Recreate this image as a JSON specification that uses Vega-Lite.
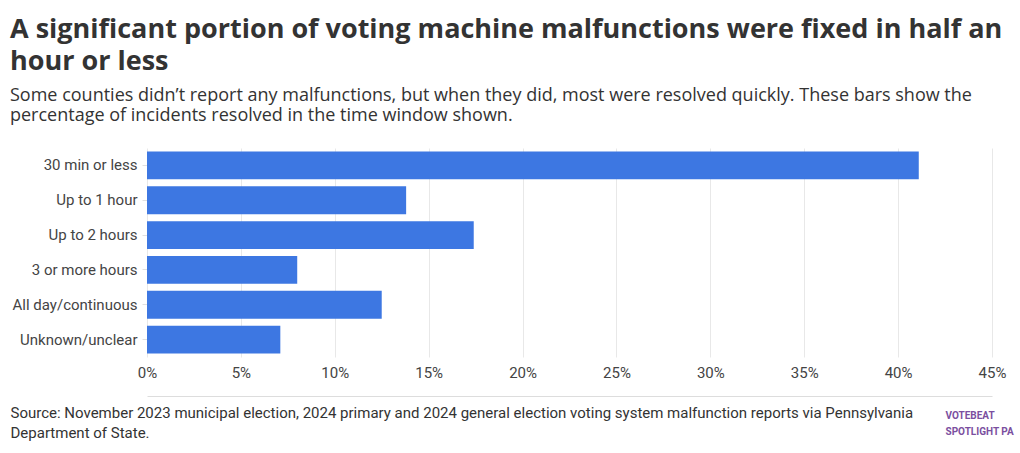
{
  "$schema": "https://vega.github.io/schema/vega-lite/v6.json",
  "autosize": {"type": "none"},
  "width": 845,
  "height": 209,
  "padding": {"left": 147, "top": 148, "right": 28, "bottom": 96},
  "background": "white",
  "config": {
    "font": "Roboto",
    "view": {"stroke": null}
  },
  "title": {
    "text": ["A significant portion of voting machine malfunctions were fixed in half an", "hour or less"],
    "subtitle": ["Some counties didn’t report any malfunctions, but when they did, most were resolved quickly. These bars show the", "percentage of incidents resolved in the time window shown."],
    "anchor": "start",
    "frame": "group",
    "dx": -137,
    "font": "Open Sans",
    "fontSize": 27,
    "fontWeight": "bold",
    "lineHeight": 32,
    "color": "#333333",
    "subtitleFont": "Open Sans",
    "subtitleFontSize": 18,
    "subtitleLineHeight": 20,
    "subtitleColor": "#333333",
    "subtitlePadding": 11,
    "offset": 22
  },
  "data": {
    "values": [
      {"window": "30 min or less", "share": 0.411},
      {"window": "Up to 1 hour", "share": 0.138},
      {"window": "Up to 2 hours", "share": 0.174},
      {"window": "3 or more hours", "share": 0.080},
      {"window": "All day/continuous", "share": 0.125},
      {"window": "Unknown/unclear", "share": 0.071}
    ]
  },
  "resolve": {"axis": {"x": "independent"}},
  "layer": [
    {
      "mark": {"type": "bar", "color": "#3d77e2"},
      "encoding": {
        "y": {
          "field": "window",
          "type": "nominal",
          "sort": null,
          "scale": {"paddingInner": 0.2, "paddingOuter": 0.1},
          "axis": {
            "title": null,
            "domain": false,
            "ticks": true,
            "tickSize": 5,
            "tickColor": "#e0e0e0",
            "labelFontSize": 15,
            "labelColor": "#444444",
            "labelPadding": 5
          }
        },
        "x": {
          "field": "share",
          "type": "quantitative",
          "scale": {"domain": [0, 0.45]},
          "axis": {
            "orient": "bottom",
            "values": [0, 0.05, 0.1, 0.15, 0.2, 0.25, 0.3, 0.35, 0.4, 0.45],
            "format": ".0%",
            "domain": false,
            "ticks": false,
            "grid": true,
            "gridColor": "#e8e8e8",
            "labelFlush": false,
            "labelFontSize": 15,
            "labelColor": "#444444",
            "labelPadding": 8,
            "title": ["Source: November 2023 municipal election, 2024 primary and 2024 general election voting system malfunction reports via Pennsylvania", "Department of State."],
            "titleFont": "Roboto",
            "titleFontSize": 15,
            "titleFontWeight": "normal",
            "titleColor": "#333333",
            "titleAnchor": "start",
            "titleAlign": "left",
            "titleBaseline": "alphabetic",
            "titleLineHeight": 20,
            "titleX": -137,
            "titleY": 60
          }
        }
      }
    },
    {
      "mark": {"type": "bar", "opacity": 0},
      "encoding": {
        "y": {"field": "window", "type": "nominal", "sort": null},
        "x": {
          "field": "share",
          "type": "quantitative",
          "axis": {
            "orient": "bottom",
            "offset": 39,
            "domain": true,
            "domainColor": "#dddddd",
            "domainWidth": 1,
            "labels": false,
            "ticks": false,
            "grid": false,
            "title": ["VOTEBEAT", "SPOTLIGHT PA"],
            "titleFont": "Roboto",
            "titleFontSize": 10,
            "titleFontWeight": "bold",
            "titleColor": "#7b4fa0",
            "titleAnchor": "start",
            "titleAlign": "left",
            "titleBaseline": "alphabetic",
            "titleLineHeight": 16,
            "titleX": 798,
            "titleY": 22
          }
        }
      }
    }
  ]
}
